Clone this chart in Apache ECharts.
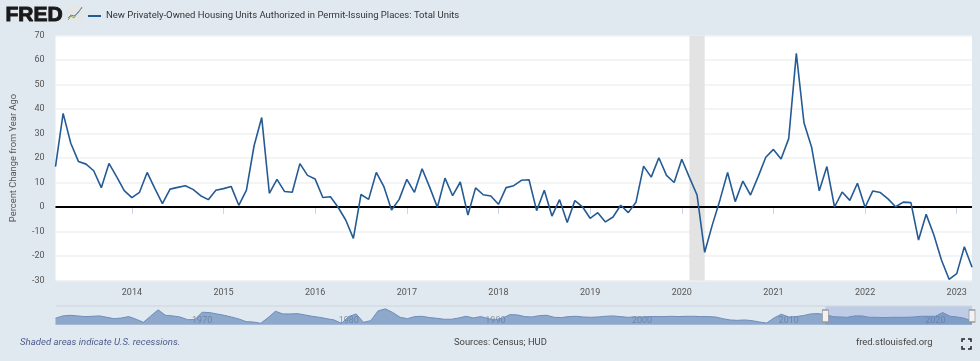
<!DOCTYPE html>
<html lang="en">
	<head>
		<meta charset="utf-8" />
		<title>FRED housing permits</title>
		<style>
			html, body { margin: 0; padding: 0; background: #e1e9f0; }
		</style>
	</head>
	<body>
		<div id="main" style="width: 980px;height: 361px"></div>

		<script src="https://cdn.jsdelivr.net/npm/echarts@6/dist/echarts.min.js"></script>
		<script type="text/javascript">
			const seriesName = 'New Privately-Owned Housing Units Authorized in Permit-Issuing Places: Total Units';
			const yTicks = [-30, -20, -10, 0, 10, 20, 30, 40, 50, 60, 70];

			// percent change from year ago, Mar 2013 to Mar 2023
			const permits2013 = [16.5, 38.2, 26, 18.6, 17.5, 14.8, 7.9, 17.8, 12.4, 6.7];
			const permits2014 = [3.8, 6, 14.1, 7.6, 1.4, 7.3, 8, 8.7, 7.2, 4.6, 3, 6.8];
			const permits2015 = [7.5, 8.4, 0.7, 6.9, 25, 36.5, 5.6, 11.3, 6.3, 6, 17.7, 12.9];
			const permits2016 = [11.4, 3.9, 4.2, -0.1, -5.3, -12.8, 5.1, 3.1, 14.1, 8.3, -1.2, 3.1];
			const permits2017 = [11.3, 6, 15.6, 8, -0.1, 11.8, 4.6, 10.2, -3.3, 7.8, 5, 4.5];
			const permits2018 = [1.1, 7.9, 8.7, 10.9, 11.1, -1.5, 6.8, -3.7, 3, -6.3, 2.6, 0.1];
			const permits2019 = [-4.6, -2.3, -6.1, -4.1, 0.7, -2.3, 1.9, 16.7, 12.2, 20.1, 12.9, 10];
			const permits2020 = [19.5, 12.1, 4.9, -18.5, -7.3, 2.9, 14.1, 2.2, 10.6, 4.9, 12.4, 20.3];
			const permits2021 = [23.5, 19.6, 27.9, 62.7, 34.4, 24.4, 6.6, 16.5, 0, 6.1, 2.7, 9.7];
			const permits2022 = [-0.1, 6.5, 5.9, 3.3, 0.1, 2, 1.8, -13.5, -3, -11.3, -21.6, -29.5];
			const permits2023 = [-27.2, -16.2, -24.6];
			const permits = [].concat(permits2013, permits2014, permits2015, permits2016, permits2017, permits2018, permits2019, permits2020, permits2021, permits2022, permits2023);

			// whole history for the navigator, one reading per half year from 1960
			const history1960s = [-10, 14, 20, 14, 7, 10, 14, 0, -14, -7, 7, -20, -51, 14, 75, 20, 14, 3, -24, -24];
			const history1970s = [51, 48, 34, 20, 3, -17, -44, -48, -61, -3, 61, 34, 34, 37, 24, 10, 0, -14, -27, -61];
			const history1980s = [7, 34, -51, -34, 65, 85, 48, 0, -14, 7, 10, -3, -10, -20, -20, -7, 10, -7, 7, -14];
			const history1990s = [-24, -7, 27, 24, 7, 3, 17, 20, 0, -3, 7, 10, 3, 0, 3, 10, 14, 7, 0, 3];
			const history2000s = [3, 7, 7, 7, 10, 7, 10, 10, 7, 7, 3, -14, -27, -31, -27, -34, -48, -58, -7, 31];
			const history2010s = [3, 7, 17, 34, 37, 27, 7, 3, 0, 14, 14, 0, 0, -3, 0, 0, 0, 3, 10, 10];
			const history2020s = [10, 48, 10, 3, -10, -41];
			const history = [].concat(history1960s, history1970s, history1980s, history1990s, history2000s, history2010s, history2020s);

			const months = permits.map((_, i) => {
				const m = i + 2;
				return `${2013 + Math.floor(m / 12)}-${String(m % 12 + 1).padStart(2, '0')}`;
			});
			const halfYears = history.map((_, i) => `${1960 + Math.floor(i / 2)}-H${i % 2 + 1}`);

			const font = 'Roboto, sans-serif';
			const myChart = echarts.init(document.getElementById('main'), null, { renderer: 'canvas' });

			const option = {
				animation: false,
				backgroundColor: '#e1e9f0',
				textStyle: { fontFamily: font },
				legend: {
					data: [seriesName],
					left: 83,
					top: 6,
					icon: 'rect',
					itemWidth: 13,
					itemHeight: 2,
					itemGap: 4,
					textStyle: { fontSize: 9.5, color: '#333', fontFamily: font },
				},
				grid: [
					{ left: 55.5, right: 8, top: 35.5, bottom: 80.5, backgroundColor: '#fff', show: true, borderWidth: 0 },
					{ left: 55.5, right: 8, top: 306.5, height: 18.2, show: false },
				],
				xAxis: [
					{
						type: 'category',
						data: months,
						boundaryGap: false,
						axisLine: { lineStyle: { color: '#ccd6eb' } },
						axisTick: {
							length: 7,
							lineStyle: { color: '#ccd6eb' },
							interval: (i, v) => v.endsWith('-01'),
						},
						axisLabel: {
							color: '#555',
							fontSize: 9,
							margin: 8,
							interval: (i, v) => v.endsWith('-01'),
							formatter: v => v.slice(0, 4),
						},
						splitLine: { show: false },
					},
					{
						type: 'category',
						gridIndex: 1,
						data: halfYears,
						boundaryGap: false,
						axisLine: { show: false },
						axisTick: { show: false },
						axisLabel: {
							inside: true,
							color: '#8c929c',
							fontSize: 9,
							margin: -1,
							interval: (i, v) => v.endsWith('0-H1') && v !== '1960-H1',
							formatter: v => v.slice(0, 4),
						},
					},
				],
				yAxis: [
					{
						type: 'value',
						min: -30,
						max: 70,
						interval: 10,
						name: 'Percent Change from Year Ago',
						nameLocation: 'middle',
						nameGap: 37,
						nameTextStyle: { color: '#555', fontSize: 9.4 },
						axisLine: { show: false },
						axisTick: { show: false },
						axisLabel: { color: '#555', fontSize: 9, margin: 11, customValues: yTicks },
						splitLine: { lineStyle: { color: '#eff0f2', width: 1.5 } },
					},
					{
						type: 'value',
						gridIndex: 1,
						min: -75,
						max: 109,
						show: false,
					},
				],
				series: [
					{
						name: seriesName,
						type: 'line',
						data: permits,
						symbol: 'none',
						lineStyle: { color: '#255b94', width: 1.6 },
						itemStyle: { color: '#255b94' },
						z: 5,
						markArea: {
							silent: true,
							itemStyle: { color: '#e3e3e3' },
							data: [[{ xAxis: '2020-02' }, { xAxis: '2020-04' }]],
						},
						markLine: {
							silent: true,
							symbol: 'none',
							label: { show: false },
							lineStyle: { color: '#000', width: 2, type: 'solid' },
							data: [{ yAxis: 0 }],
						},
					},
					{
						name: 'navigator',
						type: 'line',
						xAxisIndex: 1,
						yAxisIndex: 1,
						data: history,
						symbol: 'none',
						lineStyle: { color: '#6d8dbb', width: 1 },
						areaStyle: { color: 'rgb(87,125,178)', opacity: 0.6, origin: 'start' },
						markArea: {
							silent: true,
							itemStyle: { color: 'rgba(90,120,200,0.25)' },
							data: [[{ xAxis: '2012-H2' }, { xAxis: '2022-H2' }]],
						},
						markPoint: {
							silent: true,
							symbol: 'rect',
							symbolSize: [6, 12],
							label: { show: false },
							itemStyle: { color: '#f2f2f2', borderColor: '#999', borderWidth: 1 },
							data: [
								{ coord: ['2012-H2', 13] },
								{ coord: ['2022-H2', 13] },
							],
						},
					},
				],
				graphic: [
					{
						type: 'text',
						left: 5,
						top: 4,
						style: { text: 'FRED', font: '900 21px "Liberation Sans", sans-serif', fill: '#1a1a1a', stroke: '#1a1a1a', lineWidth: 1 },
					},
					{
						type: 'rect',
						shape: { x: 67, y: 6, width: 16, height: 15 },
						style: { fill: '#e4e7e6' },
					},
					{
						type: 'polyline',
						shape: { points: [[68, 20], [71, 16], [74, 18], [78, 12], [82, 8]] },
						style: { stroke: '#8aa35c', lineWidth: 1, fill: null },
					},
					{
						type: 'polyline',
						shape: { points: [[68, 18], [71, 15], [74, 16], [78, 13], [82, 7]] },
						style: { stroke: '#5f86b3', lineWidth: 1, fill: null },
					},
					{
						type: 'line',
						shape: { x1: 55.5, y1: 306, x2: 972, y2: 306 },
						style: { stroke: '#cdd4dc', lineWidth: 1 },
					},
					{
						type: 'text',
						left: 20,
						top: 338,
						style: { text: 'Shaded areas indicate U.S. recessions.', font: 'italic 9.6px Roboto, sans-serif', fill: '#4d5c8c' },
					},
					{
						type: 'text',
						left: 454,
						top: 338,
						style: { text: 'Sources: Census; HUD', font: '9.4px Roboto, sans-serif', fill: '#444' },
					},
					{
						type: 'text',
						left: 856,
						top: 338,
						style: { text: 'fred.stlouisfed.org', font: '9.4px Roboto, sans-serif', fill: '#444' },
					},
					{
						type: 'group',
						silent: true,
						children: [
							[[962, 342], [962, 339], [965, 339]],
							[[968, 339], [971, 339], [971, 342]],
							[[971, 346], [971, 349], [968, 349]],
							[[965, 349], [962, 349], [962, 346]],
						].map(points => ({
							type: 'polyline',
							shape: { points },
							style: { stroke: '#222', lineWidth: 1.5, fill: null },
						})),
					},
				],
			};
			myChart.setOption(option);
		</script>
	</body>
</html>
